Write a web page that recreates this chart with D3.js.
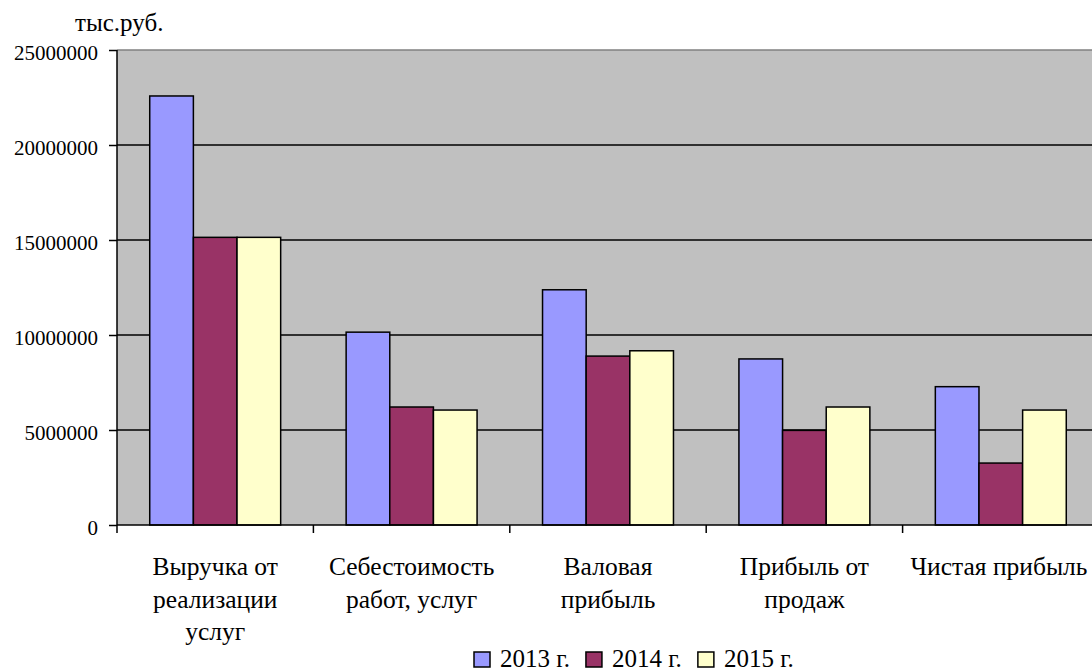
<!DOCTYPE html>
<html>
<head>
<meta charset="utf-8">
<script src="https://cdn.jsdelivr.net/npm/d3@7"></script>
<style>
  html, body { margin: 0; padding: 0; background: #fff; }
  svg { display: block; }
</style>
</head>
<body>
<svg id="chart" width="1092" height="672"></svg>
<script>
// Financial indicators, thousand roubles
const categories = [
  "Выручка от\nреализации\nуслуг",
  "Себестоимость\nработ, услуг",
  "Валовая\nприбыль",
  "Прибыль от\nпродаж",
  "Чистая прибыль"
];
const years = ["2013 г.", "2014 г.", "2015 г."];
const values2013 = [22580000, 10150000, 12380000, 8740000, 7280000];
const values2014 = [15140000, 6210000, 8890000, 4980000, 3260000];
const values2015 = [15140000, 6050000, 9170000, 6210000, 6050000];
const yTicks = [0, 5000000, 10000000, 15000000, 20000000, 25000000];
const colors = ["#9999FF", "#993366", "#FFFFCC"];
const unitLabel = "тыс.руб.";

const series = [values2013, values2014, values2015];
const FONT = "'Liberation Serif', 'Times New Roman', 'Liberation Sans', sans-serif";

const svg = d3.select("#chart");
const plot = { left: 117, right: 1099, top: 50, bottom: 525 };

// Excel-style groups: gap = 1.5 bar widths, split on both sides of each group
const xGroup = d3.scaleBand().domain(categories).range([plot.left, plot.right]).padding(0);
const band = xGroup.bandwidth();
const barW = band / (series.length + 1.5);
const xInner = d3.scaleBand().domain(d3.range(series.length))
  .range([0, barW * series.length]);

const y = d3.scaleLinear().domain([0, 25000000]).range([plot.bottom, plot.top]);

// plot background
svg.append("rect")
  .attr("x", plot.left).attr("y", plot.top)
  .attr("width", plot.right - plot.left).attr("height", plot.bottom - plot.top)
  .attr("fill", "#C0C0C0");

// horizontal gridlines
svg.append("g").selectAll("line")
  .data(yTicks.filter(t => t > 0 && t < 25000000))
  .join("line")
  .attr("x1", plot.left).attr("x2", plot.right)
  .attr("y1", d => y(d)).attr("y2", d => y(d))
  .attr("stroke", "#000").attr("stroke-width", 1.5);

// top border of the plot area
svg.append("line")
  .attr("x1", plot.left).attr("x2", plot.right)
  .attr("y1", y(25000000)).attr("y2", y(25000000))
  .attr("stroke", "#808080").attr("stroke-width", 1.5);

// bars
const groups = svg.append("g").selectAll("g")
  .data(categories)
  .join("g")
  .attr("transform", d => `translate(${xGroup(d) + (band - barW * series.length) / 2},0)`);

groups.selectAll("rect")
  .data((c, i) => series.map((s, k) => ({ k, v: s[i] })))
  .join("rect")
  .attr("x", d => xInner(d.k))
  .attr("y", d => y(d.v))
  .attr("width", xInner.bandwidth())
  .attr("height", d => y(0) - y(d.v))
  .attr("fill", d => colors[d.k])
  .attr("stroke", "#000")
  .attr("stroke-width", 1.5);

// y axis
const yAxis = d3.axisLeft(y).tickValues(yTicks).tickSize(8).tickPadding(11).tickFormat(d3.format("d"));
const gy = svg.append("g").attr("transform", `translate(${plot.left},0)`).call(yAxis)
  .attr("font-family", FONT).attr("font-size", 21);
gy.select(".domain").attr("stroke", "#000").attr("stroke-width", 1.5)
  .attr("d", `M0,${plot.top}V${plot.bottom}`);
gy.selectAll(".tick line").attr("stroke", "#000").attr("stroke-width", 1.5);
gy.selectAll(".tick text").attr("fill", "#000").attr("dy", "0.46em");

// x axis line and category boundary ticks
svg.append("line")
  .attr("x1", plot.left).attr("x2", plot.right)
  .attr("y1", plot.bottom).attr("y2", plot.bottom)
  .attr("stroke", "#000").attr("stroke-width", 1.5);
svg.append("g").selectAll("line")
  .data(d3.range(categories.length + 1))
  .join("line")
  .attr("x1", i => plot.left + i * band).attr("x2", i => plot.left + i * band)
  .attr("y1", plot.bottom).attr("y2", plot.bottom + 8)
  .attr("stroke", "#000").attr("stroke-width", 1.5);

// category labels
const labels = svg.append("g").selectAll("text")
  .data(categories)
  .join("text")
  .attr("text-anchor", "middle")
  .attr("font-family", FONT)
  .attr("font-size", 25.5)
  .attr("fill", "#000")
  .attr("transform", (d, i) => {
    let cx = xGroup(d) + band / 2;
    if (i === categories.length - 1) cx = 999;
    return `translate(${cx},575)`;
  });
labels.selectAll("tspan")
  .data(d => d.split("\n"))
  .join("tspan")
  .attr("x", 0)
  .attr("y", (d, i) => i * 32.5)
  .text(d => d);

// unit label
svg.append("text")
  .attr("x", 75).attr("y", 31)
  .attr("font-family", FONT)
  .attr("font-size", 25).attr("fill", "#000")
  .text(unitLabel);

// legend
const legend = svg.append("g").attr("transform", "translate(474,667)");
let lx = 0;
years.forEach((yr, k) => {
  const g = legend.append("g").attr("transform", `translate(${lx},0)`);
  g.append("rect").attr("x", 0).attr("y", -15).attr("width", 16).attr("height", 15)
    .attr("fill", colors[k]).attr("stroke", "#000").attr("stroke-width", 1.5);
  const t = g.append("text").attr("x", 26).attr("y", 0)
    .attr("font-family", FONT)
    .attr("font-size", 25).attr("fill", "#000").text(yr);
  lx += 26 + t.node().getComputedTextLength() + 16;
});
</script>
</body>
</html>
